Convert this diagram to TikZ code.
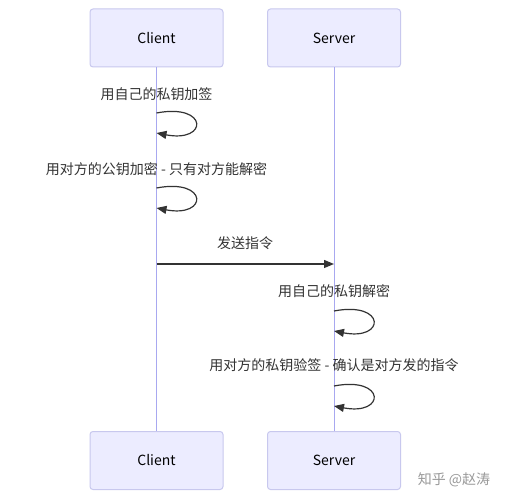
\documentclass[tikz,border=0pt]{standalone}
\usepackage{fontspec}
\setmainfont{Noto Sans CJK SC}
\usetikzlibrary{arrows.meta,calc}
\definecolor{actfill}{HTML}{ECECFF}
\definecolor{actline}{HTML}{C8C8EE}
\definecolor{life}{HTML}{A8A8F0}
\definecolor{msg}{HTML}{333333}
\tikzset{
  actor/.style={draw=actline, fill=actfill, rounded corners=3pt, minimum width=133pt, minimum height=58pt, line width=1pt, font=\fontsize{14}{16}\selectfont, text=black},
  lifeline/.style={draw=life, line width=1pt},
  msglabel/.style={font=\fontsize{14}{16}\selectfont, text=msg, inner sep=0pt},
  msgarrow/.style={draw=msg, line width=1.2pt, -{Triangle[length=10pt,width=8pt]}},
}
\begin{document}
\begin{tikzpicture}[x=1pt,y=-1pt]
\useasboundingbox (0,0) rectangle (507,500);
\fill[white] (0,0) rectangle (507,500);
% actors
\node[actor] (ct) at (156.5,38) {Client};
\node[actor] (st) at (334,38) {Server};
\node[actor] (cb) at (156.5,460.5) {Client};
\node[actor] (sb) at (334,460.5) {Server};
% lifelines
\draw[lifeline] (ct.south) -- (cb.north);
\draw[lifeline] (st.south) -- (sb.north);
% message 1
\node[msglabel] (m1) at (156.5,94) {用自己的私钥加签};
\coordinate (a1) at (156.5,113);
\coordinate (b1) at (156.5,133);
\draw[msgarrow] (a1) .. controls ($(a1)+(52,-10)$) and ($(a1)+(52,30)$) .. (b1);
% message 2
\node[msglabel] (m2) at (156.5,169) {用对方的公钥加密 - 只有对方能解密};
\coordinate (a2) at (156.5,188);
\coordinate (b2) at (156.5,208);
\draw[msgarrow] (a2) .. controls ($(a2)+(52,-10)$) and ($(a2)+(52,30)$) .. (b2);
% message 3
\node[msglabel] (m3) at (245,243) {发送指令};
\coordinate (a3) at (156.5,264);
\coordinate (b3) at (334,264);
\draw[msgarrow] (a3) -- (b3);
% message 4
\node[msglabel] (m4) at (334,291) {用自己的私钥解密};
\coordinate (a4) at (334,311);
\coordinate (b4) at (334,331);
\draw[msgarrow] (a4) .. controls ($(a4)+(52,-10)$) and ($(a4)+(52,30)$) .. (b4);
% message 5
\node[msglabel] (m5) at (334,365) {用对方的私钥验签 - 确认是对方发的指令};
\coordinate (a5) at (334,386);
\coordinate (b5) at (334,406);
\draw[msgarrow] (a5) .. controls ($(a5)+(52,-10)$) and ($(a5)+(52,30)$) .. (b5);
% watermark
\node[font=\fontsize{14}{16}\selectfont, text=black!40, inner sep=0pt] (wm) at (454,480) {知乎 @赵涛};
\end{tikzpicture}
\end{document}
